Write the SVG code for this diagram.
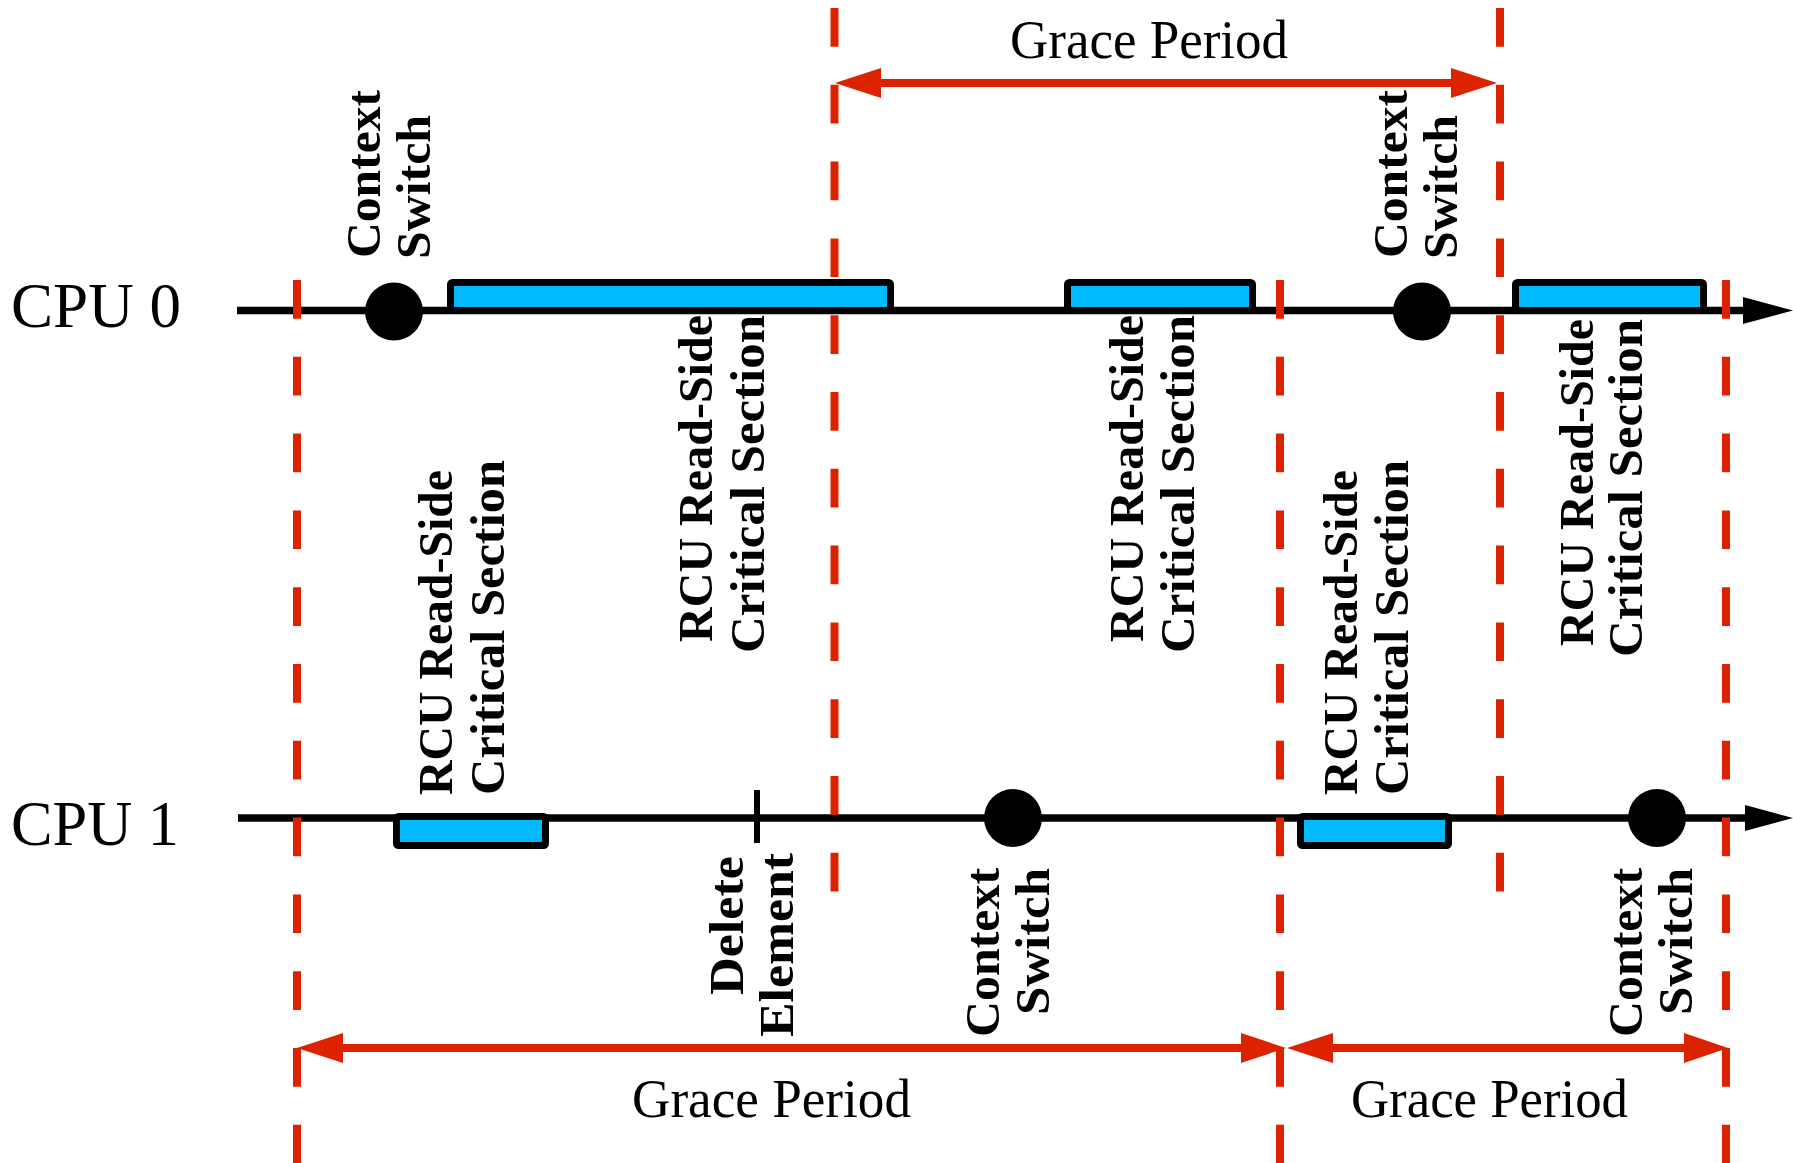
<svg xmlns="http://www.w3.org/2000/svg" width="1793" height="1163" viewBox="0 0 1793 1163">
<style>
.ax{stroke:#000;stroke-width:7.5;fill:none}
.gp{stroke:#DD2200;stroke-width:8;stroke-dasharray:38.7 38.1;fill:none}
.arr{stroke:#DD2200;stroke-width:8;fill:none}
.ah{fill:#DD2200}
.bh{fill:#000}
.cs{fill:#00B9FF;stroke:#000;stroke-width:7}
.ev{fill:#000}
.cpu{font-family:"Liberation Serif","Times New Roman",serif;font-size:64px;fill:#000}
.gpt{font-family:"Liberation Serif","Times New Roman",serif;font-size:54px;fill:#000}
.lbl{font-family:"Liberation Serif","Times New Roman",serif;font-weight:bold;font-size:49px;fill:#000}
</style>
<rect width="1793" height="1163" fill="#fff"/>
<g id="cpu-labels">
<text class="cpu" x="11" y="327" textLength="170" lengthAdjust="spacingAndGlyphs">CPU 0</text>
<text class="cpu" x="11" y="845" textLength="168" lengthAdjust="spacingAndGlyphs">CPU 1</text>
</g>
<g id="connectors">
<line class="ax" x1="237" y1="310.5" x2="1746" y2="310.5"/>
<polygon class="bh" points="1743,297 1793,310.5 1743,324"/>
<line class="ax" x1="238" y1="818" x2="1746" y2="818"/>
<polygon class="bh" points="1745,805 1793,818 1745,831"/>
<g id="guides">
<line class="gp" x1="297" y1="280" x2="297" y2="1163"/>
<line class="gp" x1="834.5" y1="8" x2="834.5" y2="892"/>
<line class="gp" x1="1280" y1="280" x2="1280" y2="1163"/>
<line class="gp" x1="1500" y1="8" x2="1500" y2="892"/>
<line class="gp" x1="1726" y1="280" x2="1726" y2="1163"/>
</g>
<g id="gp-top">
<line class="arr" x1="870" y1="83" x2="1460" y2="83"/>
<polygon class="ah" points="835,83 881,68 881,98"/>
<polygon class="ah" points="1497,83 1451,68 1451,98"/>
</g>
<g id="gp-bottom-left">
<line class="arr" x1="330" y1="1048" x2="1250" y2="1048"/>
<polygon class="ah" points="297,1048 343,1033 343,1063"/>
<polygon class="ah" points="1286,1048 1241,1033 1241,1063"/>
</g>
<g id="gp-bottom-right">
<line class="arr" x1="1320" y1="1048" x2="1695" y2="1048"/>
<polygon class="ah" points="1287,1048 1333,1033 1333,1063"/>
<polygon class="ah" points="1728,1048 1684,1033 1684,1063"/>
</g>
</g>
<g id="gp-texts">
<text class="gpt" x="1010" y="58" textLength="278" lengthAdjust="spacingAndGlyphs">Grace Period</text>
<text class="gpt" x="632" y="1117" textLength="279" lengthAdjust="spacingAndGlyphs">Grace Period</text>
<text class="gpt" x="1351" y="1117" textLength="277" lengthAdjust="spacingAndGlyphs">Grace Period</text>
</g>
<g id="cpu0-cs1">
<circle class="ev" cx="394" cy="311.5" r="29"/>
<text class="lbl" transform="translate(380,258) rotate(-90)" textLength="168" lengthAdjust="spacingAndGlyphs">Context</text>
<text class="lbl" transform="translate(430,259) rotate(-90)" textLength="144" lengthAdjust="spacingAndGlyphs">Switch</text>
</g>
<g id="cpu0-rcu1">
<rect class="cs" x="450.5" y="282.5" width="440" height="28" rx="2"/>
<text class="lbl" transform="translate(712,642) rotate(-90)" textLength="327" lengthAdjust="spacingAndGlyphs">RCU Read-Side</text>
<text class="lbl" transform="translate(764,653) rotate(-90)" textLength="338" lengthAdjust="spacingAndGlyphs">Critical Section</text>
</g>
<g id="cpu0-rcu2">
<rect class="cs" x="1067.5" y="282.5" width="185" height="28" rx="2"/>
<text class="lbl" transform="translate(1143,642) rotate(-90)" textLength="327" lengthAdjust="spacingAndGlyphs">RCU Read-Side</text>
<text class="lbl" transform="translate(1194,653) rotate(-90)" textLength="338" lengthAdjust="spacingAndGlyphs">Critical Section</text>
</g>
<g id="cpu0-cs2">
<circle class="ev" cx="1422" cy="311.5" r="29"/>
<text class="lbl" transform="translate(1407,258) rotate(-90)" textLength="168" lengthAdjust="spacingAndGlyphs">Context</text>
<text class="lbl" transform="translate(1457,259) rotate(-90)" textLength="144" lengthAdjust="spacingAndGlyphs">Switch</text>
</g>
<g id="cpu0-rcu3">
<rect class="cs" x="1515.5" y="282.5" width="188" height="28" rx="2"/>
<text class="lbl" transform="translate(1593,646) rotate(-90)" textLength="327" lengthAdjust="spacingAndGlyphs">RCU Read-Side</text>
<text class="lbl" transform="translate(1642,657) rotate(-90)" textLength="338" lengthAdjust="spacingAndGlyphs">Critical Section</text>
</g>
<g id="cpu1-rcu1">
<rect class="cs" x="396.5" y="816.5" width="149" height="29" rx="2"/>
<text class="lbl" transform="translate(452,795) rotate(-90)" textLength="325" lengthAdjust="spacingAndGlyphs">RCU Read-Side</text>
<text class="lbl" transform="translate(504,795) rotate(-90)" textLength="335" lengthAdjust="spacingAndGlyphs">Critical Section</text>
</g>
<g id="cpu1-delete">
<line x1="757" y1="790" x2="757" y2="843" stroke="#000" stroke-width="6"/>
<text class="lbl" transform="translate(743,995) rotate(-90)" textLength="139" lengthAdjust="spacingAndGlyphs">Delete</text>
<text class="lbl" transform="translate(793,1037) rotate(-90)" textLength="184" lengthAdjust="spacingAndGlyphs">Element</text>
</g>
<g id="cpu1-cs1">
<circle class="ev" cx="1013" cy="818" r="29"/>
<text class="lbl" transform="translate(999,1037) rotate(-90)" textLength="169" lengthAdjust="spacingAndGlyphs">Context</text>
<text class="lbl" transform="translate(1049,1015) rotate(-90)" textLength="147" lengthAdjust="spacingAndGlyphs">Switch</text>
</g>
<g id="cpu1-rcu2">
<rect class="cs" x="1300.5" y="816.5" width="148" height="29" rx="2"/>
<text class="lbl" transform="translate(1357,795) rotate(-90)" textLength="325" lengthAdjust="spacingAndGlyphs">RCU Read-Side</text>
<text class="lbl" transform="translate(1408,795) rotate(-90)" textLength="335" lengthAdjust="spacingAndGlyphs">Critical Section</text>
</g>
<g id="cpu1-cs2">
<circle class="ev" cx="1657" cy="818" r="29"/>
<text class="lbl" transform="translate(1642,1037) rotate(-90)" textLength="169" lengthAdjust="spacingAndGlyphs">Context</text>
<text class="lbl" transform="translate(1692,1015) rotate(-90)" textLength="147" lengthAdjust="spacingAndGlyphs">Switch</text>
</g>
</svg>
